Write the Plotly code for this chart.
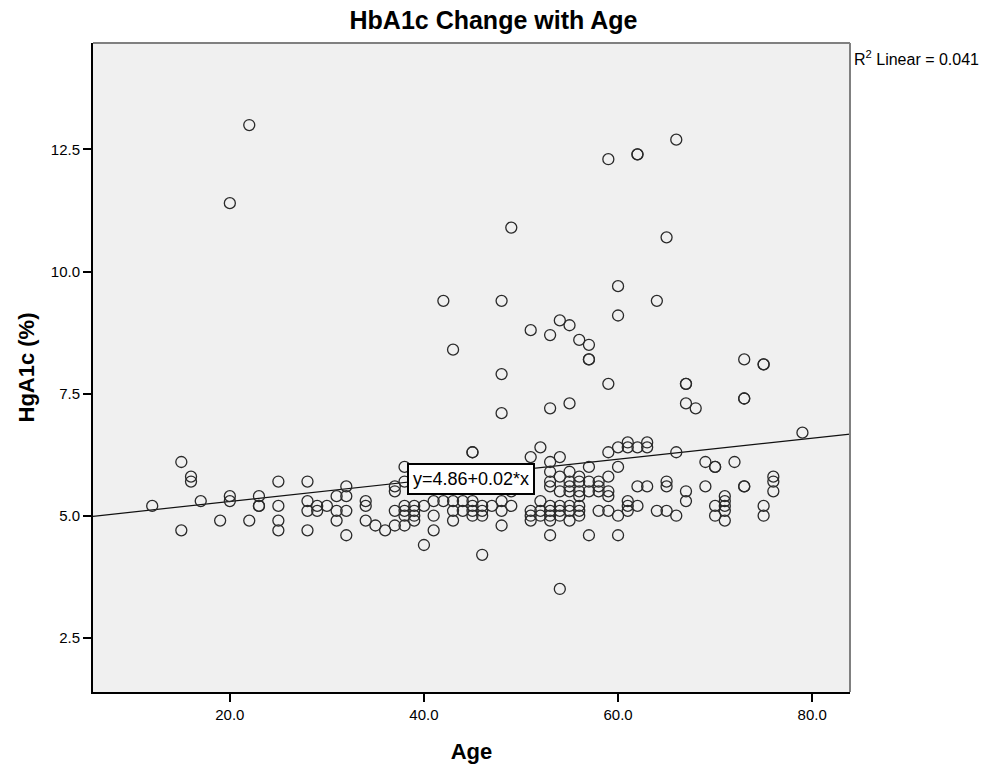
import plotly.graph_objects as go

# ---- data (age, HbA1c) ----
ages = [
    12,
    15, 15,
    16, 16,
    17,
    19,
    20, 20, 20,
    22, 22,
    23, 23, 23,
    25, 25, 25, 25,
    28, 28, 28, 28,
    29, 29,
    30,
    31, 31, 31,
    32, 32, 32, 32,
    34, 34, 34,
    35,
    36,
    37, 37, 37, 37,
    38, 38, 38, 38, 38, 38,
    39, 39, 39, 39,
    40, 40,
    41, 41, 41,
    42, 42,
    43, 43, 43, 43,
    44, 44,
    45, 45, 45, 45, 45, 45,
    46, 46, 46, 46,
    47,
    48, 48, 48, 48, 48, 48,
    49, 49, 49,
    50,
    51, 51, 51, 51, 51,
    52, 52, 52, 52,
    53, 53, 53, 53, 53, 53, 53, 53, 53, 53, 53,
    54, 54, 54, 54, 54, 54, 54, 54,
    55, 55, 55, 55, 55, 55, 55, 55, 55,
    56, 56, 56, 56, 56, 56, 56, 56,
    57, 57, 57, 57, 57, 57, 57,
    58, 58, 58, 58,
    59, 59, 59, 59, 59, 59, 59,
    60, 60, 60, 60, 60, 60,
    61, 61, 61, 61, 61,
    62, 62, 62, 62, 62,
    63, 63, 63,
    64, 64,
    65, 65, 65, 65,
    66, 66, 66,
    67, 67, 67, 67, 67,
    68,
    69, 69,
    70, 70, 70, 70,
    71, 71, 71, 71, 71,
    72,
    73, 73, 73, 73, 73,
    75, 75, 75, 75,
    76, 76, 76,
    79,
]
hba1c = [
    5.2,
    6.1, 4.7,
    5.8, 5.7,
    5.3,
    4.9,
    11.4, 5.4, 5.3,
    13.0, 4.9,
    5.4, 5.2, 5.2,
    5.7, 5.2, 4.9, 4.7,
    5.7, 5.3, 5.1, 4.7,
    5.2, 5.1,
    5.2,
    5.4, 5.1, 4.9,
    5.6, 5.4, 5.1, 4.6,
    5.3, 5.2, 4.9,
    4.8,
    4.7,
    5.6, 5.5, 5.1, 4.8,
    6.0, 5.7, 5.2, 5.1, 5.0, 4.8,
    5.2, 5.1, 5.0, 4.9,
    5.2, 4.4,
    5.3, 5.0, 4.7,
    9.4, 5.3,
    8.4, 5.3, 5.1, 4.9,
    5.3, 5.1,
    6.3, 6.3, 5.3, 5.2, 5.1, 5.0,
    5.2, 5.1, 5.0, 4.2,
    5.2,
    9.4, 7.9, 7.1, 5.3, 5.1, 4.8,
    10.9, 5.5, 5.2,
    5.7,
    8.8, 6.2, 5.1, 5.0, 4.9,
    6.4, 5.3, 5.1, 5.0,
    8.7, 7.2, 6.1, 5.9, 5.7, 5.6, 5.2, 5.1, 5.0, 4.9, 4.6,
    9.0, 6.2, 5.8, 5.5, 5.2, 5.1, 5.0, 3.5,
    8.9, 7.3, 5.9, 5.7, 5.6, 5.5, 5.2, 5.1, 4.9,
    8.6, 5.8, 5.7, 5.5, 5.4, 5.2, 5.1, 5.0,
    8.5, 8.2, 8.2, 6.0, 5.7, 5.5, 4.6,
    5.7, 5.6, 5.5, 5.1,
    12.3, 7.7, 6.3, 5.8, 5.5, 5.4, 5.1,
    9.7, 9.1, 6.4, 6.0, 5.0, 4.6,
    6.5, 6.4, 5.3, 5.2, 5.1,
    12.4, 12.4, 6.4, 5.6, 5.2,
    6.5, 6.4, 5.6,
    9.4, 5.1,
    10.7, 5.7, 5.6, 5.1,
    12.7, 6.3, 5.0,
    7.7, 7.7, 7.3, 5.5, 5.3,
    7.2,
    6.1, 5.6,
    6.0, 6.0, 5.2, 5.0,
    5.4, 5.3, 5.2, 5.1, 4.9,
    6.1,
    8.2, 7.4, 7.4, 5.6, 5.6,
    8.1, 8.1, 5.2, 5.0,
    5.8, 5.7, 5.5,
    6.7,
]

# fit line (as reported: y = 4.86 + 0.02*x)
fit_intercept = 4.86
fit_slope = 0.0216
x_range = [5.9, 83.9]
y_range = [1.39, 14.68]
x_ticks = [20, 40, 60, 80]
y_ticks = [2.5, 5.0, 7.5, 10.0, 12.5]

FONT = "Liberation Sans, Arial, sans-serif"
BOLD_FONT = "Liberation Sans, Arial, sans-serif"

fig = go.Figure()

fig.add_trace(go.Scatter(
    x=x_range,
    y=[fit_intercept + fit_slope * v for v in x_range],
    mode="lines",
    line=dict(color="#111111", width=1.2),
    hoverinfo="skip",
    showlegend=False,
))

fig.add_trace(go.Scatter(
    x=ages, y=hba1c,
    mode="markers",
    marker=dict(symbol="circle", size=11, color="rgba(0,0,0,0)",
                line=dict(color="#2a2a2a", width=1.3)),
    showlegend=False,
))

fig.update_layout(
    width=987, height=765,
    margin=dict(l=93, r=137, t=43, b=73),
    paper_bgcolor="white",
    plot_bgcolor="#f0f0f0",
    title=dict(text="<b>HbA1c Change with Age</b>", x=0.5, xref="container",
               y=0.974, yref="container", yanchor="middle",
               font=dict(family=BOLD_FONT, size=25, color="#000")),
    xaxis=dict(range=x_range, tickvals=x_ticks, tickformat=".1f",
               automargin=False,
               showgrid=False, zeroline=False,
               showline=True, linecolor="#000", linewidth=2,
               ticks="outside", ticklen=8, tickwidth=2, tickcolor="#000",
               tickfont=dict(family=FONT, size=15, color="#000"),
               title=dict(text="<b>Age</b>", standoff=22,
                          font=dict(family=BOLD_FONT, size=22, color="#000"))),
    yaxis=dict(range=y_range, tickvals=y_ticks, tickformat=".1f",
               automargin=False,
               showgrid=False, zeroline=False,
               showline=True, linecolor="#000", linewidth=2,
               ticks="outside", ticklen=8, tickwidth=2, tickcolor="#000",
               tickfont=dict(family=FONT, size=15, color="#000"),
               title=dict(text="<b>HgA1c (%)</b>", standoff=10,
                          font=dict(family=BOLD_FONT, size=22, color="#000"))),
    shapes=[
        dict(type="line", xref="paper", yref="paper", x0=0, x1=1, y0=1, y1=1,
             line=dict(color="#808080", width=2)),
        dict(type="line", xref="paper", yref="paper", x0=1, x1=1, y0=0, y1=1,
             line=dict(color="#808080", width=2)),
    ],
    annotations=[
        dict(text="R<sup>2</sup> Linear = 0.041", xref="paper", yref="paper",
             x=1.002, y=0.977, xanchor="left", yanchor="middle", showarrow=False,
             font=dict(family=FONT, size=16, color="#000")),
        dict(text="y=4.86+0.02*x", xref="x", yref="y",
             x=44.8, y=5.76, xanchor="center", yanchor="middle", showarrow=False,
             bgcolor="white", bordercolor="#000", borderwidth=2, borderpad=4,
             font=dict(family=FONT, size=18, color="#000")),
    ],
)

fig.write_html(
    "out.html",
    config={"displayModeBar": False},
    post_script="document.body.style.margin='0';document.body.style.overflow='hidden';",
)
